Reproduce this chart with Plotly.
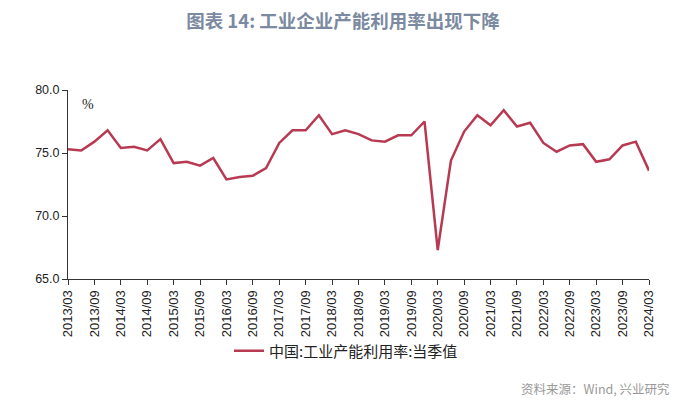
import plotly.graph_objects as go

quarters = [f"{y}/{m}" for y in range(2013, 2025) for m in ["03", "06", "09", "12"]][:45]
values = [75.3, 75.2, 75.9, 76.8, 75.4, 75.5, 75.2, 76.1,
          74.2, 74.3, 74.0, 74.6, 72.9, 73.1, 73.2, 73.8,
          75.8, 76.8, 76.8, 78.0, 76.5, 76.8, 76.5, 76.0,
          75.9, 76.4, 76.4, 77.5, 67.3, 74.4, 76.7, 78.0,
          77.2, 78.4, 77.1, 77.4, 75.8, 75.1, 75.6, 75.7,
          74.3, 74.5, 75.6, 75.9, 73.6]
tick_labels = quarters[::2]

line_color = "#B83A52"
OFF = 8  # page offset in the screenshot
W, H = 700, 408
# target pixel positions in the screenshot
px_left, px_right, px_top, px_bottom = 68, 649, 90, 279
L, R, T, B = px_left - OFF, W - (px_right - OFF), px_top - OFF, H - (px_bottom - OFF)
pw, ph = W - L - R, H - T - B


def fx(px):
    return (px - px_left) / pw


def fy(py):
    return (px_bottom - py) / ph


fig = go.Figure()
fig.add_trace(go.Scatter(
    x=list(range(len(values))), y=values, mode="lines",
    line=dict(color=line_color, width=2.5),
    name="中国:工业产能利用率:当季值",
))

fig.update_layout(
    width=W, height=H,
    margin=dict(l=L, r=R, t=T, b=B, autoexpand=False),
    paper_bgcolor="white", plot_bgcolor="white",
    showlegend=True,
    legend=dict(orientation="h", x=fx(229), xanchor="left",
                y=fy(351), yanchor="middle",
                font=dict(family="Noto Sans CJK SC", size=15, color="#222"),
                itemwidth=30, bgcolor="rgba(0,0,0,0)"),
    title=dict(text="<b>图表 14: 工业企业产能利用率出现下降</b>", x=(343 - OFF) / W, xanchor="center",
               y=1 - (22 - OFF) / H, yanchor="middle",
               font=dict(family="Noto Sans CJK SC", size=18.5, color="#7B8AA0")),
    xaxis=dict(
        range=[0, len(values) - 1], automargin=False,
        tickmode="array", tickvals=list(range(0, len(values), 2)), ticktext=tick_labels,
        tickangle=-90, ticks="outside", ticklen=5, tickcolor="#333",
        showline=True, linecolor="#333", linewidth=1, showgrid=False, zeroline=False,
        tickfont=dict(family="Liberation Sans", size=13, color="#222"),
    ),
    yaxis=dict(
        range=[65, 80], dtick=5, tick0=65, tickformat=".1f", automargin=False,
        ticks="outside", ticklen=5, tickcolor="#333",
        showline=True, linecolor="#333", linewidth=1, showgrid=False, zeroline=False,
        tickfont=dict(family="Liberation Sans", size=12.5, color="#222"),
    ),
    annotations=[
        dict(text="%", x=fx(88), y=fy(104), xref="paper", yref="paper",
             xanchor="center", yanchor="middle", showarrow=False,
             font=dict(family="Liberation Serif", size=14, color="#222")),
        dict(text="资料来源：Wind, 兴业研究", x=fx(672), y=fy(388),
             xref="paper", yref="paper", xanchor="right", yanchor="middle",
             showarrow=False, font=dict(family="Noto Sans CJK SC", size=12.5, color="#999")),
    ],
)

fig.write_html("out.html")
